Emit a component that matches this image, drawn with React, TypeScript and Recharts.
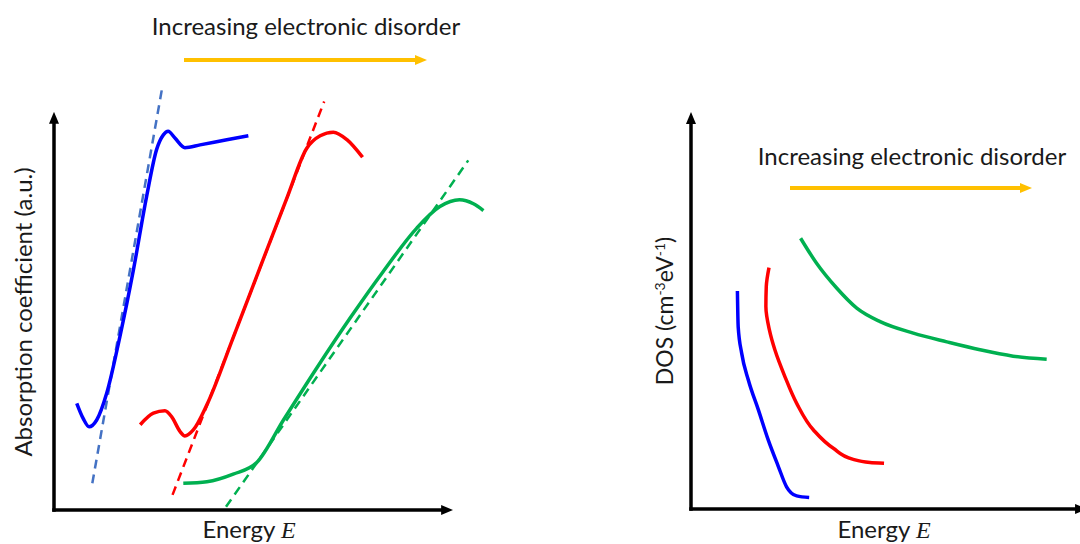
import React from "react";
import { ComposedChart, Line, XAxis, YAxis, ReferenceLine } from "recharts";

// schematic values, arbitrary units (energy on x, quantity on y)
const blueAbs = [
  { x: 0.57, y: 2.68 }, { x: 0.73, y: 2.3 }, { x: 0.88, y: 2.09 }, { x: 1.07, y: 2.26 },
  { x: 1.32, y: 2.93 }, { x: 1.65, y: 4.35 }, { x: 1.99, y: 6.03 }, { x: 2.32, y: 7.87 },
  { x: 2.57, y: 9.05 }, { x: 2.74, y: 9.42 }, { x: 2.86, y: 9.51 }, { x: 3.03, y: 9.34 },
  { x: 3.28, y: 9.1 }, { x: 3.66, y: 9.17 }, { x: 4.33, y: 9.3 }, { x: 4.87, y: 9.4 },
];
const redAbs = [
  { x: 2.16, y: 2.14 }, { x: 2.49, y: 2.43 }, { x: 2.78, y: 2.49 }, { x: 2.95, y: 2.34 },
  { x: 3.16, y: 1.97 }, { x: 3.28, y: 1.86 }, { x: 3.49, y: 2.01 }, { x: 3.83, y: 2.64 },
  { x: 4.49, y: 4.33 }, { x: 5.16, y: 6.08 }, { x: 5.83, y: 7.82 }, { x: 6.33, y: 9.08 },
  { x: 6.67, y: 9.4 }, { x: 7.0, y: 9.49 }, { x: 7.34, y: 9.3 }, { x: 7.73, y: 8.86 },
];
const greenAbs = [
  { x: 3.24, y: 0.67 }, { x: 3.83, y: 0.71 }, { x: 4.49, y: 0.9 }, { x: 5.08, y: 1.19 },
  { x: 5.75, y: 2.26 }, { x: 6.58, y: 3.56 }, { x: 7.42, y: 4.82 }, { x: 8.25, y: 5.99 },
  { x: 9.09, y: 7.08 }, { x: 9.67, y: 7.62 }, { x: 10.16, y: 7.79 }, { x: 10.51, y: 7.69 },
  { x: 10.76, y: 7.52 },
];
// linear fits (Tauc-like extrapolations)
const blueFit = [{ x: 0.96, y: 0.67 }, { x: 2.71, y: 10.6 }];
const redFit = [{ x: 2.97, y: 0.38 }, { x: 6.77, y: 10.26 }];
const greenFit = [{ x: 4.31, y: 0.08 }, { x: 10.38, y: 8.78 }];

const blueDos = [
  { x: 1.19, y: 5.49 }, { x: 1.21, y: 4.59 }, { x: 1.3, y: 3.92 }, { x: 1.47, y: 3.25 },
  { x: 1.73, y: 2.49 }, { x: 1.98, y: 1.74 }, { x: 2.24, y: 1.07 }, { x: 2.45, y: 0.56 },
  { x: 2.71, y: 0.33 }, { x: 3.03, y: 0.29 },
];
const redDos = [
  { x: 2.0, y: 6.08 }, { x: 1.93, y: 5.6 }, { x: 1.92, y: 5.1 }, { x: 2.01, y: 4.51 },
  { x: 2.15, y: 4.01 }, { x: 2.41, y: 3.33 }, { x: 2.71, y: 2.66 }, { x: 3.14, y: 1.99 },
  { x: 3.65, y: 1.53 }, { x: 4.16, y: 1.25 }, { x: 4.59, y: 1.17 }, { x: 4.95, y: 1.15 },
];
const greenDos = [
  { x: 2.81, y: 6.82 }, { x: 3.22, y: 6.19 }, { x: 3.74, y: 5.56 }, { x: 4.25, y: 5.06 },
  { x: 4.85, y: 4.72 }, { x: 5.7, y: 4.43 }, { x: 6.56, y: 4.21 }, { x: 7.41, y: 4.01 },
  { x: 8.26, y: 3.85 }, { x: 9.12, y: 3.77 },
];

const origin = { x: 0, y: 0 };
const leftAxisEnd = { x: 9.8, y: 9.8 };
const rightAxisEnd = { x: 9.95, y: 9.8 };

const FONT = "Lato, 'Open Sans', sans-serif";
const TEXT = "#1a1a1a";
const BLUE = "#0000FF";
const RED = "#FF0000";
const GREEN = "#00B050";
const FIT_BLUE = "#4472C4";
const ORANGE = "#FFC000";

function ArrowDefs({ id }: { id: string }) {
  return (
    <defs>
      <marker
        id={id}
        viewBox="0 0 12 10"
        refX={4}
        refY={5}
        markerWidth={12}
        markerHeight={10}
        markerUnits="userSpaceOnUse"
        orient="auto"
      >
        <path d="M0,0 L12,5 L0,10 z" fill="#000" />
      </marker>
    </defs>
  );
}

const axisShape = (markerId: string) => (p: any) =>
  (
    <line
      x1={p.x1}
      y1={p.y1}
      x2={p.x2}
      y2={p.y2}
      stroke="#000"
      strokeWidth={3.5}
      strokeLinecap="square"
      markerEnd={`url(#${markerId})`}
    />
  );

function Curve({ data, color, dashed }: { data: { x: number; y: number }[]; color: string; dashed?: boolean }) {
  return (
    <Line
      data={data}
      dataKey="y"
      type="monotone"
      stroke={color}
      strokeWidth={dashed ? 2.5 : 3.5}
      strokeDasharray={dashed ? "9 6" : undefined}
      dot={false}
      activeDot={false}
      isAnimationActive={false}
    />
  );
}

export default function App() {
  return (
    <div
      style={{
        position: "absolute",
        left: 0,
        top: 0,
        width: 1080,
        height: 544,
        overflow: "hidden",
        background: "#fff",
      }}
    >
      {/* Absorption panel */}
      <div style={{ position: "absolute", left: 0, top: 0 }}>
        <ComposedChart width={540} height={544} margin={{ top: 72, right: 47, bottom: 34, left: 54 }}>
          <ArrowDefs id="axArrowL" />
          <XAxis hide type="number" dataKey="x" domain={[0, 11]} />
          <YAxis hide type="number" domain={[0, 11]} />
          <ReferenceLine
            ifOverflow="visible"
            segment={[origin, { x: 0, y: leftAxisEnd.y }]}
            shape={axisShape("axArrowL")}
          />
          <ReferenceLine
            ifOverflow="visible"
            segment={[origin, { x: leftAxisEnd.x, y: 0 }]}
            shape={axisShape("axArrowL")}
          />
          {Curve({ data: blueFit, color: FIT_BLUE, dashed: true })}
          {Curve({ data: redFit, color: RED, dashed: true })}
          {Curve({ data: greenFit, color: GREEN, dashed: true })}
          {Curve({ data: blueAbs, color: BLUE })}
          {Curve({ data: redAbs, color: RED })}
          {Curve({ data: greenAbs, color: GREEN })}
        </ComposedChart>
      </div>

      {/* DOS panel */}
      <div style={{ position: "absolute", left: 540, top: 0 }}>
        <ComposedChart width={545} height={544} margin={{ top: 112, right: 4, bottom: 35, left: 151 }}>
          <ArrowDefs id="axArrowR" />
          <XAxis hide type="number" dataKey="x" domain={[0, 10]} />
          <YAxis hide type="number" domain={[0, 10]} />
          <ReferenceLine
            ifOverflow="visible"
            segment={[origin, { x: 0, y: rightAxisEnd.y }]}
            shape={axisShape("axArrowR")}
          />
          <ReferenceLine
            ifOverflow="visible"
            segment={[origin, { x: rightAxisEnd.x, y: 0 }]}
            shape={axisShape("axArrowR")}
          />
          {Curve({ data: blueDos, color: BLUE })}
          <Line
            data={redDos}
            dataKey="y"
            type="monotoneY"
            stroke={RED}
            strokeWidth={3.5}
            dot={false}
            activeDot={false}
            isAnimationActive={false}
          />
          {Curve({ data: greenDos, color: GREEN })}
        </ComposedChart>
      </div>

      {/* annotations */}
      <svg
        width={1080}
        height={544}
        style={{ position: "absolute", left: 0, top: 0, pointerEvents: "none" }}
        fontFamily={FONT}
        fill={TEXT}
      >
        <defs>
          <marker
            id="orangeHead"
            viewBox="0 0 12 10"
            refX={4}
            refY={5}
            markerWidth={12}
            markerHeight={10}
            markerUnits="userSpaceOnUse"
            orient="auto"
          >
            <path d="M0,0 L12,5 L0,10 z" fill={ORANGE} />
          </marker>
        </defs>

        <text x={306} y={35} textAnchor="middle" fontSize={24}>
          Increasing electronic disorder
        </text>
        <line x1={184} y1={60} x2={419} y2={60} stroke={ORANGE} strokeWidth={4} markerEnd="url(#orangeHead)" />

        <text x={912} y={165} textAnchor="middle" fontSize={24}>
          Increasing electronic disorder
        </text>
        <line x1={790} y1={188} x2={1024} y2={188} stroke={ORANGE} strokeWidth={4} markerEnd="url(#orangeHead)" />

        <text transform="translate(32,312) rotate(-90)" textAnchor="middle" fontSize={24}>
          Absorption coefficient (a.u.)
        </text>
        <text transform="translate(673,311) rotate(-90)" textAnchor="middle" fontSize={23}>
          DOS (cm
          <tspan fontSize={14} dy={-8}>
            -3
          </tspan>
          <tspan dy={8}>eV</tspan>
          <tspan fontSize={14} dy={-8}>
            -1
          </tspan>
          <tspan dy={8}>)</tspan>
        </text>

        <text x={249} y={538} textAnchor="middle" fontSize={24}>
          Energy{" "}
          <tspan fontFamily="'Liberation Serif', serif" fontStyle="italic">
            E
          </tspan>
        </text>
        <text x={884} y={538} textAnchor="middle" fontSize={24}>
          Energy{" "}
          <tspan fontFamily="'Liberation Serif', serif" fontStyle="italic">
            E
          </tspan>
        </text>
      </svg>
    </div>
  );
}
